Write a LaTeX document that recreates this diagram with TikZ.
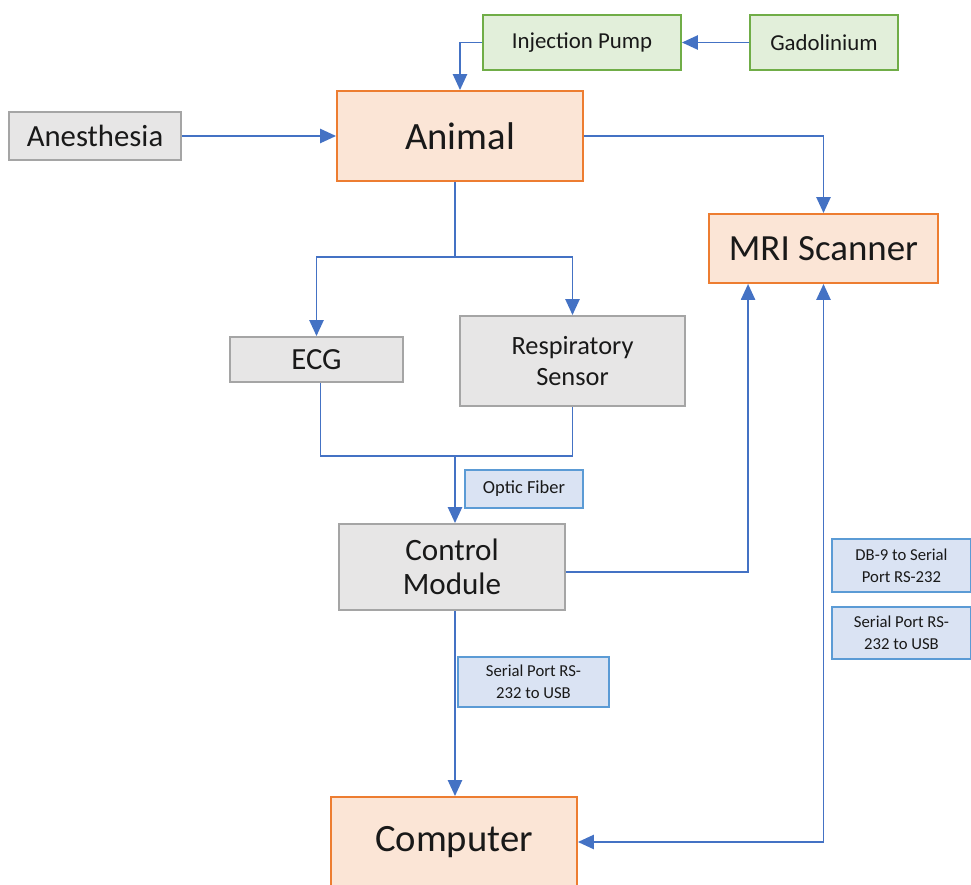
\documentclass[tikz,border=0pt]{standalone}
\usepackage{fontspec}
\setmainfont{Carlito}
\usepackage{tikz}
\usetikzlibrary{arrows.meta,positioning,calc}
\definecolor{Link}{HTML}{4472C4}
\definecolor{OrangeLine}{HTML}{ED7D31}
\definecolor{OrangeFill}{HTML}{FBE5D6}
\definecolor{GreenLine}{HTML}{70AD47}
\definecolor{GreenFill}{HTML}{E2EFDA}
\definecolor{GreyLine}{HTML}{A5A5A5}
\definecolor{GreyFill}{HTML}{E7E6E6}
\definecolor{TagLine}{HTML}{5B9BD5}
\definecolor{TagFill}{HTML}{DAE3F3}

\tikzset{
  box/.style={draw,line width=1.1pt,inner sep=0pt,align=center,text=black!90},
  mainbox/.style={box,draw=OrangeLine,fill=OrangeFill,font=\fontsize{22}{26}\selectfont},
  pumpbox/.style={box,draw=GreenLine,fill=GreenFill,font=\fontsize{13}{15}\selectfont},
  sensbox/.style={box,draw=GreyLine,fill=GreyFill},
  tagbox/.style={box,line width=1pt,draw=TagLine,fill=TagFill,font=\fontsize{9.5}{12.5}\selectfont},
  link/.style={Link,line width=1.1pt},
  arr/.style={link,-{Triangle[length=9pt,width=8pt]}},
}

\begin{document}
\begin{tikzpicture}[x=0.02cm,y=-0.02cm]
  \useasboundingbox (0,0) rectangle (971,885);
  \clip (0,0) rectangle (971,885);
  % top row
  \node[pumpbox,minimum width=3.96cm,minimum height=1.10cm] (pump) at (582,42.5) {Injection Pump};
  \node[pumpbox,minimum width=2.96cm,minimum height=1.10cm] (gado) at (824,42.5) {Gadolinium};
  \node[sensbox,minimum width=3.44cm,minimum height=0.96cm,font=\fontsize{17.5}{20}\selectfont] (anest) at (95,136) {Anesthesia};
  \node[mainbox,minimum width=4.92cm,minimum height=1.80cm] (animal) at (460,136) {Animal};
  \node[mainbox,minimum width=4.58cm,minimum height=1.38cm,font=\fontsize{21}{24}\selectfont] (mri) at (823.5,248.5) {MRI Scanner};
  % sensors
  \node[sensbox,minimum width=3.46cm,minimum height=0.90cm,font=\fontsize{17.5}{20}\selectfont] (ecg) at (316.5,359.5) {ECG};
  \node[sensbox,minimum width=4.50cm,minimum height=1.80cm,font=\fontsize{15}{17.6}\selectfont] (resp) at (572.5,361) {Respiratory\\Sensor};
  \node[tagbox,minimum width=2.36cm,minimum height=0.76cm,font=\fontsize{10.5}{12.5}\selectfont] (optic) at (524,489) {Optic Fiber};
  \node[sensbox,minimum width=4.52cm,minimum height=1.72cm,font=\fontsize{17.7}{19.5}\selectfont] (ctrl) at (452,567) {Control\\Module};
  \node[tagbox,minimum width=3.02cm,minimum height=1.00cm] (serL) at (533.5,682) {Serial Port RS-\\232 to USB};
  \node[tagbox,minimum width=2.78cm,minimum height=1.06cm] (db9) at (901.5,565.5) {DB-9 to Serial\\Port RS-232};
  \node[tagbox,minimum width=2.78cm,minimum height=1.04cm] (serR) at (901.5,633) {Serial Port RS-\\232 to USB};
  \node[mainbox,minimum width=4.92cm,minimum height=1.80cm] (comp) at (454,842) {Computer};

  % connectors
  \coordinate (split) at (455,257);
  \coordinate (merge) at (455,456);
  \draw[arr] (gado.west) -- (pump.east);
  \draw[arr] (pump.west) -| (animal.north);
  \draw[arr] (anest.east) -- (animal.west);
  \draw[arr] (animal.east) -| (mri.north);
  \draw[link] (animal.south -| split) -- (split);
  \draw[arr] (split) -| (ecg.north);
  \draw[arr] (split) -| (resp.north);
  \draw[link] ($(ecg.south)+(4,0)$) |- (merge) -| (resp.south);
  \draw[arr] (merge) -- (merge |- ctrl.north);
  \draw[arr] ($(ctrl.east)+(0,5)$) -| ($(mri.south west)+(40,0)$);
  \draw[arr] (ctrl.south -| merge) -- (merge |- comp.north);
  \draw[link,{Triangle[length=9pt,width=8pt]}-{Triangle[length=9pt,width=8pt]}] (mri.south) |- (comp.east);
\end{tikzpicture}
\end{document}
